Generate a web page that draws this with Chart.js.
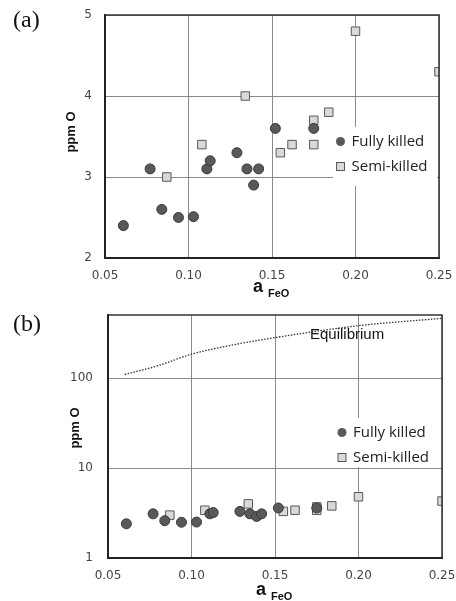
<!DOCTYPE html>
<html>
<head>
<meta charset="utf-8">
<script src="https://cdn.jsdelivr.net/npm/chart.js@4/dist/chart.umd.min.js"></script>
<style>
  html, body { margin: 0; padding: 0; background: #fff; }
  .panel { position: absolute; left: 0; width: 456px; }
  #wrapA { top: 0; height: 300px; }
  #wrapB { top: 300px; height: 301px; }
</style>
</head>
<body>
<div class="panel" id="wrapA"><canvas id="chartA" width="456" height="300"></canvas></div>
<div class="panel" id="wrapB"><canvas id="chartB" width="456" height="301"></canvas></div>
<script>
// values
const fullyX = [0.061, 0.077, 0.084, 0.094, 0.103, 0.111, 0.113, 0.129, 0.135, 0.139, 0.142, 0.152, 0.175];
const fullyY = [2.4, 3.1, 2.6, 2.5, 2.51, 3.1, 3.2, 3.3, 3.1, 2.9, 3.1, 3.6, 3.6];
const semiX = [0.087, 0.108, 0.134, 0.155, 0.162, 0.175, 0.175, 0.184, 0.200, 0.250];
const semiY = [3.0, 3.4, 4.0, 3.3, 3.4, 3.7, 3.4, 3.8, 4.8, 4.3];
const eqX = [0.06, 0.08, 0.10, 0.125, 0.15, 0.20, 0.25];
const eqY = [110, 138, 185, 235, 283, 384, 464];

const xTicks = [0.05, 0.10, 0.15, 0.20, 0.25];
const yTicksA = [2, 3, 4, 5];
const yTicksB = [1, 10, 100];

const seriesNames = ["Fully killed", "Semi-killed"];

function pts(xs, ys) {
  return xs.map((x, i) => ({ x: x, y: ys[i] }));
}

const fullyStyle = { pointStyle: "circle", pointRadius: 5, backgroundColor: "#595959", borderColor: "#3a3a3a", borderWidth: 1 };
const semiStyle = { pointStyle: "rect", pointRadius: 6, backgroundColor: "#d9d9d9", borderColor: "#595959", borderWidth: 1 };

const tickFont = { family: "DejaVu Sans", size: 12 };

const decor = {
  id: "decor",
  beforeDatasetsDraw(chart, args, o) {
    const ctx = chart.ctx;
    ctx.save();
    ctx.fillStyle = "#fff";
    ctx.fillRect(o.box[0], o.box[1], o.box[2], o.box[3]);
    ctx.restore();
  },
  afterDatasetsDraw(chart, args, o) {
    const ctx = chart.ctx;
    const a = chart.chartArea;
    ctx.save();
    // frame top / right
    ctx.strokeStyle = "#333";
    ctx.lineWidth = 1.5;
    ctx.beginPath();
    ctx.moveTo(a.left, a.top);
    ctx.lineTo(a.right, a.top);
    ctx.lineTo(a.right, a.bottom);
    ctx.stroke();

    // legend
    ctx.font = "15px 'Open Sans'";
    ctx.textBaseline = "middle";
    ctx.fillStyle = "#222";
    const lx = o.legend[0], ly = o.legend[1];
    ctx.beginPath();
    ctx.arc(lx, ly, 4.5, 0, Math.PI * 2);
    ctx.fillStyle = fullyStyle.backgroundColor;
    ctx.fill();
    ctx.fillStyle = "#d9d9d9";
    ctx.strokeStyle = "#595959";
    ctx.lineWidth = 1;
    ctx.fillRect(lx - 4, ly + 25 - 4, 8, 8);
    ctx.strokeRect(lx - 4, ly + 25 - 4, 8, 8);
    ctx.fillStyle = "#222";
    ctx.fillText(seriesNames[0], lx + 11, ly);
    ctx.fillText(seriesNames[1], lx + 11, ly + 25);

    // panel label
    ctx.font = "24px 'Liberation Serif'";
    ctx.textBaseline = "alphabetic";
    ctx.fillStyle = "#111";
    ctx.fillText(o.panel, 13, o.panelY);

    // y title
    ctx.save();
    ctx.translate(o.yTitle[0], o.yTitle[1]);
    ctx.rotate(-Math.PI / 2);
    ctx.font = "bold 13px 'Liberation Sans'";
    ctx.textAlign = "center";
    ctx.textBaseline = "middle";
    ctx.fillText("ppm O", 0, 0);
    ctx.restore();

    // x title with subscript
    ctx.font = "bold 18px 'Liberation Sans'";
    ctx.fillText("a", o.xTitle[0], o.xTitle[1]);
    ctx.font = "bold 11px 'Liberation Sans'";
    ctx.fillText("FeO", o.xTitle[0] + 15, o.xTitle[1] + 5);

    if (o.eqLabel) {
      ctx.font = "15px 'Liberation Sans'";
      ctx.textBaseline = "middle";
      ctx.fillText("Equilibrium", o.eqLabel[0], o.eqLabel[1]);
    }
    ctx.restore();
  }
};

function xScale(h) {
  return {
    type: "linear",
    min: 0.05,
    max: 0.25,
    afterBuildTicks: (s) => { s.ticks = xTicks.map(v => ({ value: v })); },
    afterFit: (s) => { s.height = h; s.paddingLeft = 0; s.paddingRight = 0; },
    ticks: { font: tickFont, color: "#444", padding: 11, callback: (v) => v.toFixed(2), maxRotation: 0 },
    grid: { color: "#8a8a8a", lineWidth: 1, drawTicks: false },
    border: { color: "#222", width: 2 }
  };
}

new Chart(document.getElementById("chartA"), {
  type: "scatter",
  data: {
    datasets: [
      Object.assign({ label: seriesNames[0], data: pts(fullyX, fullyY) }, fullyStyle),
      Object.assign({ label: seriesNames[1], data: pts(semiX, semiY) }, semiStyle)
    ]
  },
  options: {
    responsive: false,
    animation: false,
    layout: { padding: { left: 0, right: 17, top: 15, bottom: 0 } },
    plugins: {
      legend: { display: false },
      tooltip: { enabled: false },
      decor: {
        panel: "(a)", panelY: 27,
        box: [333, 127, 104, 59],
        legend: [340.5, 141.5],
        yTitle: [71, 132],
        xTitle: [253, 292]
      }
    },
    scales: {
      x: xScale(42),
      y: {
        type: "linear",
        min: 2,
        max: 5,
        afterBuildTicks: (s) => { s.ticks = yTicksA.map(v => ({ value: v })); },
        afterFit: (s) => { s.width = 105; s.paddingTop = 0; s.paddingBottom = 0; },
        ticks: { font: tickFont, color: "#444", padding: 13 },
        grid: { color: "#8a8a8a", lineWidth: 1, drawTicks: false },
        border: { color: "#222", width: 2 }
      }
    }
  },
  plugins: [decor]
});

new Chart(document.getElementById("chartB"), {
  type: "scatter",
  data: {
    datasets: [
      Object.assign({ label: seriesNames[0], data: pts(fullyX, fullyY) }, fullyStyle),
      Object.assign({ label: seriesNames[1], data: pts(semiX, semiY) }, semiStyle),
      {
        label: "Equilibrium",
        data: pts(eqX, eqY),
        showLine: true,
        pointRadius: 0,
        borderColor: "#333",
        borderWidth: 1.3,
        borderDash: [1.5, 1.5],
        cubicInterpolationMode: "monotone"
      }
    ]
  },
  options: {
    responsive: false,
    animation: false,
    layout: { padding: { left: 0, right: 14, top: 15, bottom: 0 } },
    plugins: {
      legend: { display: false },
      tooltip: { enabled: false },
      decor: {
        panel: "(b)", panelY: 31,
        box: [333, 118, 106, 49],
        legend: [342, 132.5],
        yTitle: [75, 128],
        xTitle: [256, 295],
        eqLabel: [310, 35]
      }
    },
    scales: {
      x: xScale(43),
      y: {
        type: "logarithmic",
        min: 1,
        max: 505,
        afterBuildTicks: (s) => { s.ticks = yTicksB.map(v => ({ value: v })); },
        afterFit: (s) => { s.width = 108; s.paddingTop = 0; s.paddingBottom = 0; },
        ticks: { font: tickFont, color: "#444", padding: 15, callback: (v) => String(v) },
        grid: { color: "#8a8a8a", lineWidth: 1, drawTicks: false },
        border: { color: "#222", width: 2 }
      }
    }
  },
  plugins: [decor]
});
</script>
</body>
</html>
